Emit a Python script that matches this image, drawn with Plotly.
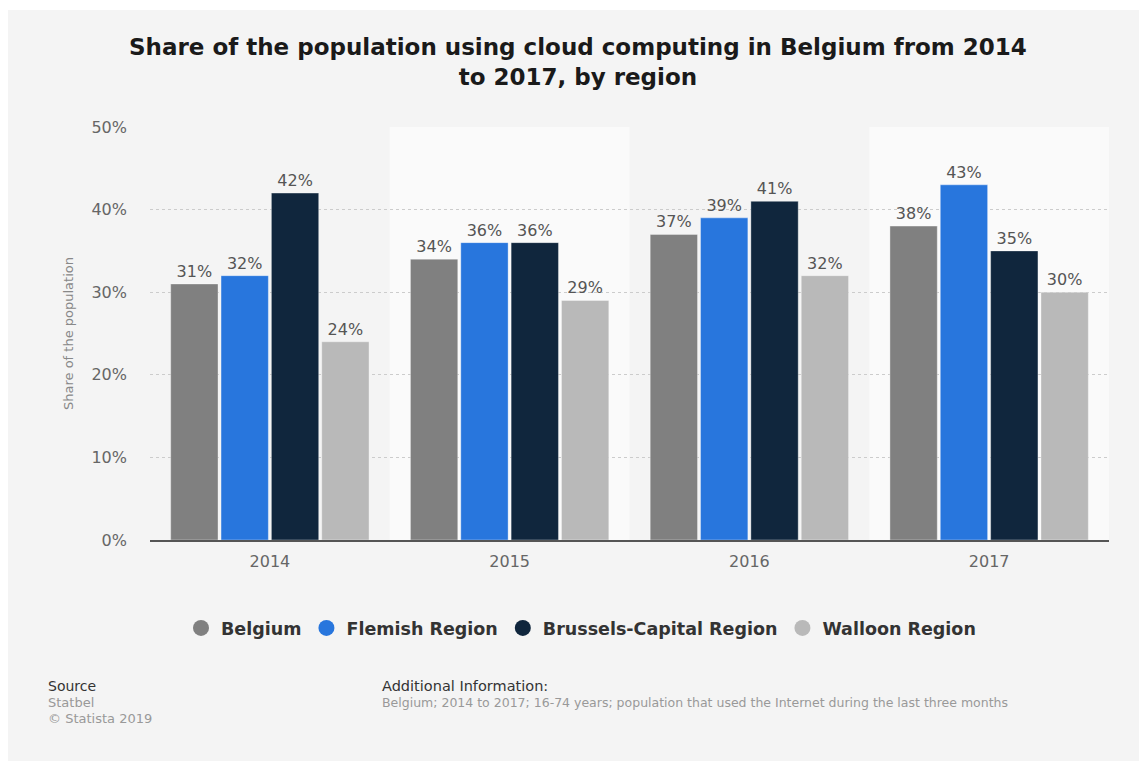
import plotly.graph_objects as go

years = ["2014", "2015", "2016", "2017"]
belgium = [31, 34, 37, 38]
flemish = [32, 36, 39, 43]
brussels = [42, 36, 41, 35]
walloon = [24, 29, 32, 30]

series_names = ["Belgium", "Flemish Region", "Brussels-Capital Region", "Walloon Region"]
series_values = [belgium, flemish, brussels, walloon]
colors = ["#808080", "#2876dd", "#10263d", "#b9b9b9"]

y_ticks = [0, 10, 20, 30, 40, 50]
y_tick_text = ["0%", "10%", "20%", "30%", "40%", "50%"]

W, H = 1147, 761
OX, OY = 8, 8          # page body offset of the screenshot
PL, PR, PT, PB = 150, 1109, 127, 540   # plot area in screen pixels
L, T = PL - OX, PT - OY
R = W - (PR - OX)
B = H - (PB - OY)
pw, ph = W - L - R, H - T - B


def px(x):
    return (x - OX - L) / pw


def py(y):
    return (H - B - (y - OY)) / ph


FONT = "DejaVu Sans"

fig = go.Figure()

for name, vals, col in zip(series_names, series_values, colors):
    fig.add_trace(go.Bar(
        x=years, y=vals, name=name,
        marker=dict(color=col, line=dict(color="rgba(255,255,255,0.35)", width=1)),
        text=[f"{v}%" for v in vals], textposition="outside",
        textfont=dict(family=FONT, size=16, color="#555555"),
        cliponaxis=False, showlegend=False, hoverinfo="skip",
    ))

for name, col in zip(series_names, colors):
    fig.add_trace(go.Scatter(
        x=[None], y=[None], mode="markers", name="<b>" + name + "</b>",
        marker=dict(symbol="circle", size=16, color=col),
        showlegend=True,
    ))

shapes = []
for i in range(len(years)):
    if i % 2 == 1:
        shapes.append(dict(type="rect", xref="x", yref="y", x0=i - 0.5, x1=i + 0.5,
                           y0=0, y1=50, fillcolor="#fafafa", line=dict(width=0), layer="below"))
# thin white strip at top (reference starts grey at y=10)
shapes.append(dict(type="rect", xref="paper", yref="paper", x0=px(OX), x1=px(W + OX),
                   y0=py(10), y1=py(OY), fillcolor="white", line=dict(width=0), layer="below"))

annotations = [
    dict(text="<b>Share of the population using cloud computing in Belgium from 2014</b><br><b>to 2017, by region</b>",
         x=px(578), y=py(61.5), xref="paper", yref="paper",
         xanchor="center", yanchor="middle", showarrow=False,
         font=dict(family=FONT, size=23, color="#1a1a1a")),
    dict(text="Share of the population", x=px(68), y=py(334), xref="paper", yref="paper",
         textangle=-90, showarrow=False, xanchor="center", yanchor="middle",
         font=dict(family=FONT, size=13, color="#888888")),
    dict(text="Source", x=px(46), y=py(686), xref="paper", yref="paper", xanchor="left",
         yanchor="middle", showarrow=False, font=dict(family=FONT, size=14, color="#333333")),
    dict(text="Statbel", x=px(46), y=py(702), xref="paper", yref="paper", xanchor="left",
         yanchor="middle", showarrow=False, font=dict(family=FONT, size=13, color="#999999")),
    dict(text="© Statista 2019", x=px(46), y=py(718), xref="paper", yref="paper", xanchor="left",
         yanchor="middle", showarrow=False, font=dict(family=FONT, size=13, color="#999999")),
    dict(text="Additional Information:", x=px(380), y=py(686), xref="paper", yref="paper",
         xanchor="left", yanchor="middle", showarrow=False,
         font=dict(family=FONT, size=14.5, color="#333333")),
    dict(text="Belgium; 2014 to 2017; 16-74 years; population that used the Internet during the last three months",
         x=px(380), y=py(702), xref="paper", yref="paper", xanchor="left", yanchor="middle",
         showarrow=False, font=dict(family=FONT, size=12.5, color="#999999")),
]

fig.update_layout(
    width=W, height=H,
    margin=dict(l=L, r=R, t=T, b=B, pad=0),
    paper_bgcolor="#f4f4f4", plot_bgcolor="#f4f4f4",
    barmode="group", bargap=0.16, bargroupgap=0.06,
    font=dict(family=FONT),
    showlegend=True,
    legend=dict(orientation="h", x=px(581), xanchor="center", y=py(628), yanchor="middle",
                font=dict(family=FONT, size=17.5, color="#333333"), bgcolor="rgba(0,0,0,0)",
                itemclick=False, itemdoubleclick=False),
    shapes=shapes,
    annotations=annotations,
    xaxis=dict(type="category", showline=True, linecolor="#555555", linewidth=2,
               showgrid=False, ticks="", tickfont=dict(family=FONT, size=16, color="#666666"),
               ticklabelstandoff=6, fixedrange=True),
    yaxis=dict(range=[0, 50], tickvals=y_ticks, ticktext=y_tick_text, showgrid=True,
               gridcolor="#cccccc", griddash="dot", gridwidth=1, zeroline=False,
               ticks="", tickfont=dict(family=FONT, size=16, color="#666666"),
               ticklabelstandoff=22, fixedrange=True),
)

fig.write_html("out.html")
